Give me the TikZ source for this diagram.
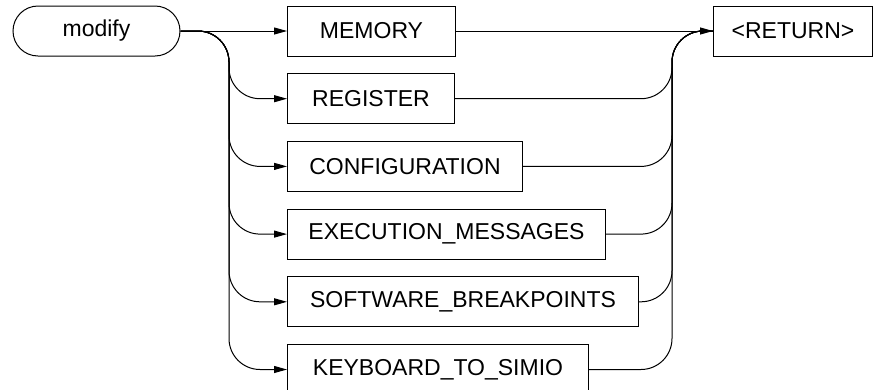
\documentclass[tikz,border=0pt]{standalone}
\usepackage{fontspec}
\setmainfont{Liberation Sans}
\usetikzlibrary{arrows.meta, positioning}
\tikzset{
  synbox/.style={rectangle, draw, line width=1pt, minimum height=50pt,
    inner sep=0pt, font=\fontsize{23}{27}\selectfont},
  kwbox/.style={synbox, rounded corners=25pt},
  flow/.style={-{Triangle[length=13pt,width=7pt]}, line width=1pt},
  bus/.style={line width=1pt, rounded corners=31pt}
}

\begin{document}
\begin{tikzpicture}[x=1pt, y=-1pt, node distance=16.7pt]
  \useasboundingbox (0,0) rectangle (873,389);
  % keyword and options
  \node[kwbox, minimum width=167pt] (modify) at (96.5,31) {modify};
  \node[synbox, minimum width=168pt, anchor=west] (mem) at (287,31) {MEMORY};
  \node[synbox, minimum width=167pt, below=of mem.south west, anchor=north west] (reg) {REGISTER};
  \node[synbox, minimum width=235pt, below=of reg.south west, anchor=north west] (conf) {CONFIGURATION};
  \node[synbox, minimum width=318pt, below=of conf.south west, anchor=north west] (exec) {EXECUTION\_MESSAGES};
  \node[synbox, minimum width=351pt, below=of exec.south west, anchor=north west] (soft) {SOFTWARE\_BREAKPOINTS};
  \node[synbox, minimum width=301pt, below=of soft.south west, anchor=north west] (keyb) {KEYBOARD\_TO\_SIMIO};
  \node[synbox, minimum width=159pt, anchor=west] (ret) at (713,31) {<RETURN>};
  % bus corners
  \coordinate (lb) at (229,31);
  \coordinate (rb) at (672,31);
  % connectors
  \draw[flow] (modify.east) -- (mem.west);
  \foreach \opt in {reg,conf,exec,soft,keyb}
    \draw[flow, rounded corners=31pt] (modify.east) -- (lb) |- (\opt.west);
  \draw[flow] (mem.east) -- (ret.west);
  \foreach \opt in {reg,conf,exec,soft,keyb}
    \draw[bus] (\opt.east) -| (rb) -- (ret.west);
\end{tikzpicture}
\end{document}
